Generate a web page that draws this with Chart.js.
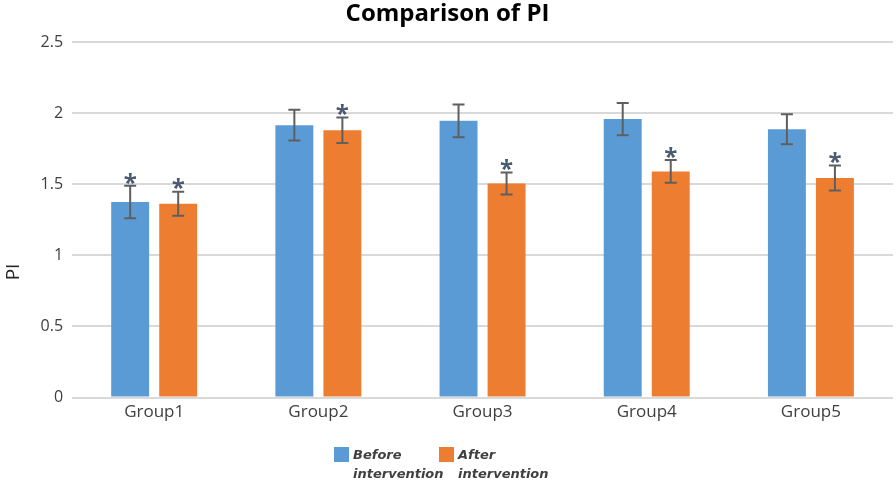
<!DOCTYPE html>
<html>
<head>
<meta charset="utf-8">
<script src="https://cdn.jsdelivr.net/npm/chart.js@4"></script>
<style>
html,body{margin:0;padding:0;background:#fff;}
#wrap{width:896px;height:483px;}
</style>
</head>
<body>
<div id="wrap"><canvas id="c" width="896" height="483"></canvas></div>
<script>
const categories = ['Group1', 'Group2', 'Group3', 'Group4', 'Group5'];
const beforeValues = [1.375, 1.915, 1.946, 1.958, 1.887];
const afterValues = [1.363, 1.880, 1.505, 1.590, 1.544];
const beforeErrors = [0.114, 0.108, 0.115, 0.113, 0.105];
const afterErrors = [0.085, 0.090, 0.078, 0.080, 0.088];
const beforeStars = [true, false, false, false, false];
const afterStars = [true, true, true, true, true];
const seriesNames = [['Before', 'intervention'], ['After', 'intervention']];
const yTicks = [0, 0.5, 1, 1.5, 2, 2.5];
const yTitle = 'PI';

const BLUE = '#5B9BD5', ORANGE = '#ED7D31';
const FONT = '"Open Sans", "Noto Sans", sans-serif';

const errorPlugin = {
  id: 'errorBars',
  afterDatasetsDraw(chart) {
    const ctx = chart.ctx;
    const y = chart.scales.y;
    const errs = [beforeErrors, afterErrors];
    const stars = [beforeStars, afterStars];
    chart.data.datasets.forEach((ds, di) => {
      const meta = chart.getDatasetMeta(di);
      meta.data.forEach((bar, i) => {
        const v = ds.data[i], e = errs[di][i];
        const x = bar.x;
        const yt = y.getPixelForValue(v + e), yb = y.getPixelForValue(v - e);
        ctx.save();
        ctx.strokeStyle = '#5f5f5f';
        ctx.lineWidth = 2;
        ctx.beginPath();
        ctx.moveTo(x, yt); ctx.lineTo(x, yb);
        ctx.moveTo(x - 6, yt); ctx.lineTo(x + 6, yt);
        ctx.moveTo(x - 6, yb); ctx.lineTo(x + 6, yb);
        ctx.stroke();
        if (stars[di][i]) {
          ctx.fillStyle = '#4a5a70';
          ctx.font = 'bold 24px ' + FONT;
          ctx.textAlign = 'center';
          ctx.textBaseline = 'middle';
          ctx.fillText('*', x, yt - 2);
        }
        ctx.restore();
      });
    });
  }
};

const extrasPlugin = {
  id: 'extras',
  afterDraw(chart) {
    const ctx = chart.ctx;
    const items = [{c: BLUE, x: 334, t: seriesNames[0]}, {c: ORANGE, x: 439, t: seriesNames[1]}];
    ctx.save();
    items.forEach(it => {
      ctx.fillStyle = it.c;
      ctx.fillRect(it.x, 447, 15, 15);
      ctx.fillStyle = '#404040';
      ctx.font = 'oblique bold 13px "DejaVu Sans", sans-serif';
      ctx.textAlign = 'left';
      ctx.textBaseline = 'middle';
      ctx.fillText(it.t[0], it.x + 19, 456);
      ctx.fillText(it.t[1], it.x + 19, 475);
    });
    // y axis title
    ctx.translate(14, 272);
    ctx.rotate(-Math.PI / 2);
    ctx.fillStyle = '#262626';
    ctx.font = '19px ' + FONT;
    ctx.textAlign = 'center';
    ctx.textBaseline = 'middle';
    ctx.fillText(yTitle, 0, 0);
    ctx.restore();
  }
};

new Chart(document.getElementById('c'), {
  type: 'bar',
  data: {
    labels: categories,
    datasets: [
      {label: seriesNames[0].join(' '), data: beforeValues, backgroundColor: BLUE, borderWidth: 0},
      {label: seriesNames[1].join(' '), data: afterValues, backgroundColor: ORANGE, borderWidth: 0}
    ]
  },
  options: {
    responsive: false,
    animation: false,
    devicePixelRatio: 1,
    layout: {padding: {top: 0, right: 3, bottom: 57, left: 2}},
    datasets: {bar: {categoryPercentage: 0.585, barPercentage: 0.79}},
    plugins: {
      legend: {display: false},
      tooltip: {enabled: false},
      title: {
        display: true,
        text: 'Comparison of PI',
        color: '#000',
        font: {family: FONT, size: 24, weight: 'bold'},
        padding: {top: 0, bottom: 13.2}
      }
    },
    scales: {
      x: {
        grid: {display: false, drawTicks: false},
        border: {display: false},
        ticks: {color: '#404040', font: {family: FONT, size: 17}, padding: 4}
      },
      y: {
        min: 0, max: 2.5,
        afterBuildTicks(scale) { scale.ticks = yTicks.map(v => ({value: v})); },
        grid: {color: '#d9d9d9', lineWidth: 2, drawTicks: false},
        border: {display: false},
        ticks: {color: '#404040', font: {family: FONT, size: 16}, padding: 9, callback: v => String(v)},
        title: {display: true, text: yTitle, color: 'rgba(0,0,0,0)', font: {family: FONT, size: 18}, padding: 4}
      }
    }
  },
  plugins: [errorPlugin, extrasPlugin]
});
</script>
</body>
</html>
